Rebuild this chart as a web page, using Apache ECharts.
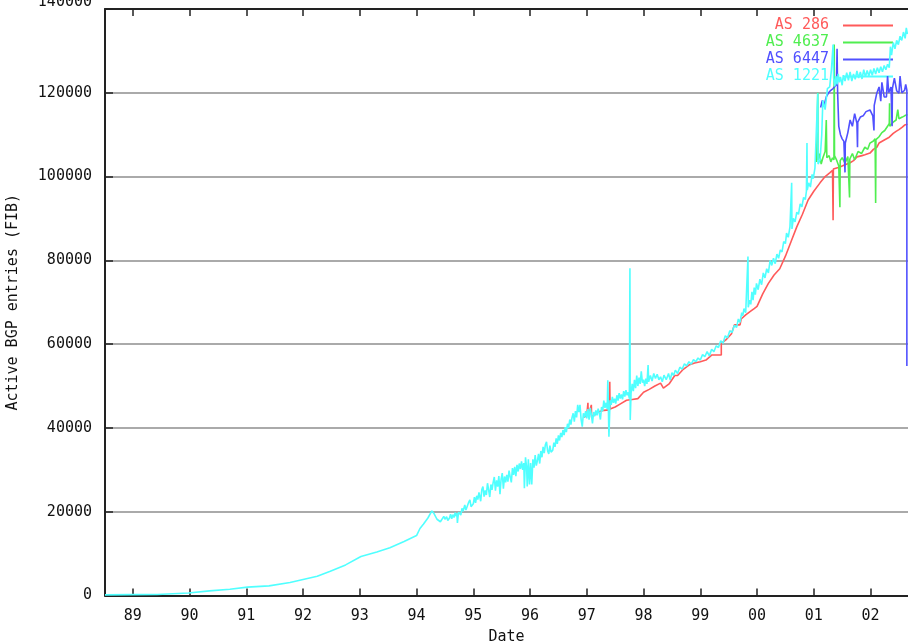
<!DOCTYPE html>
<html>
<head>
<meta charset="utf-8">
<script src="https://cdn.jsdelivr.net/npm/echarts@6/dist/echarts.min.js"></script>
<style>html,body{margin:0;padding:0;background:#fff}#c{width:908px;height:643px}</style>
</head>
<body>
<div id="c"></div>
<script>
// Tick positions / labels
const yearTicks = [1989,1990,1991,1992,1993,1994,1995,1996,1997,1998,1999,2000,2001,2002];
const yearLabels = ['89','90','91','92','93','94','95','96','97','98','99','00','01','02'];
const yTicks = [0,20000,40000,60000,80000,100000,120000,140000];

// Series data: [decimal year, active BGP entries]
const as286 = [
  [1996.95,42500],[1997.00,43000],[1997.02,46000],[1997.025,43000],[1997.04,43500],[1997.08,45500],[1997.085,42500],[1997.11,42500],
  [1997.2,43800],[1997.3,44200],[1997.40,44300],[1997.405,51000],[1997.41,44500],[1997.5,45000],[1997.6,45800],[1997.7,46600],
  [1997.8,46800],[1997.9,47000],[1998.0,48500],[1998.1,49200],[1998.2,50000],[1998.3,50700],[1998.35,49500],[1998.45,50500],
  [1998.55,52500],[1998.6,52500],[1998.7,54000],[1998.8,55000],[1998.9,55500],[1999.0,55800],[1999.1,56200],[1999.2,57400],
  [1999.37,57400],[1999.37,60200],[1999.45,61000],[1999.55,62500],[1999.6,64600],[1999.7,64600],[1999.72,66000],[1999.8,67000],
  [1999.9,68000],[1999.95,68500],[2000.0,69000],[2000.05,70500],[2000.1,72000],[2000.2,74500],[2000.3,76500],[2000.4,78000],
  [2000.5,81000],[2000.6,84500],[2000.7,88000],[2000.8,91000],[2000.9,94400],[2001.0,96500],[2001.11,98500],[2001.2,100000],
  [2001.28,100900],[2001.33,101500],[2001.34,89600],[2001.345,101800],[2001.46,102300],[2001.55,102800],[2001.64,103300],
  [2001.7,103800],[2001.76,104700],[2001.85,105000],[2001.9,105200],[2001.99,105600],[2002.05,106500],[2002.11,107000],
  [2002.15,108000],[2002.25,108800],[2002.33,109400],[2002.4,110300],[2002.45,110800],[2002.5,111200],[2002.56,111800],
  [2002.6,112300],[2002.65,112500]
];
const as4637 = [
  [2001.05,103500],[2001.07,120000],[2001.075,104000],[2001.1,105500],[2001.13,103000],[2001.16,104500],[2001.2,106000],
  [2001.22,113500],[2001.23,104500],[2001.27,105000],[2001.3,103500],[2001.33,104500],[2001.355,104000],[2001.36,131500],
  [2001.365,105000],[2001.4,104000],[2001.44,102500],[2001.46,92700],[2001.465,103800],[2001.5,104500],[2001.55,103200],
  [2001.6,104800],[2001.63,95000],[2001.635,104200],[2001.68,105500],[2001.72,104000],[2001.78,106000],[2001.84,105500],
  [2001.9,107000],[2001.95,106500],[2001.99,108000],[2002.05,108500],[2002.08,109000],[2002.09,93700],[2002.095,108800],
  [2002.15,109500],[2002.2,110500],[2002.25,111000],[2002.3,112000],[2002.33,112700],[2002.335,117500],[2002.34,112000],
  [2002.4,113000],[2002.45,113500],[2002.48,116000],[2002.5,113800],[2002.56,114200],[2002.6,114500],[2002.65,114800]
];
const as6447 = [
  [2001.12,116500],[2001.15,118200],[2001.18,117000],[2001.22,119000],[2001.26,120000],[2001.3,120600],[2001.34,121000],
  [2001.4,122000],[2001.41,130500],[2001.42,120000],[2001.44,112000],[2001.47,110000],[2001.5,109000],[2001.53,108400],
  [2001.55,101000],[2001.555,108000],[2001.6,110500],[2001.64,113500],[2001.68,112000],[2001.72,115000],[2001.76,112700],
  [2001.77,107000],[2001.775,113000],[2001.82,114200],[2001.87,114500],[2001.92,115500],[2001.99,115900],[2002.04,114500],
  [2002.06,111000],[2002.065,117000],[2002.11,119900],[2002.15,121400],[2002.18,118000],[2002.2,122500],[2002.24,119000],
  [2002.28,119000],[2002.3,124000],[2002.32,120000],[2002.36,121400],[2002.38,112000],[2002.385,121000],[2002.42,123500],
  [2002.46,120500],[2002.5,119900],[2002.52,124000],[2002.55,120000],[2002.6,120600],[2002.62,122000],[2002.64,120600],
  [2002.64,54800]
];
const as1221 = [
  [1988.51,150],[1988.95,200],[1989.43,250],[1989.43,450],[1989.98,600],[1990.0,900],[1990.35,1100],[1990.36,1300],
  [1990.71,1500],[1990.72,1800],[1991.02,2000],[1991.4,2300],[1991.41,2700],[1991.77,3100],[1991.78,3500],[1992.02,3900],
  [1992.25,4600],[1992.48,5800],[1992.75,7300],[1993.02,9300],[1993.3,10400],[1993.53,11400],[1993.78,12900],[1994.0,14300],
  [1994.03,14500],[1994.06,16000],[1994.12,17000],[1994.2,18500],[1994.27,20200],[1994.31,19500],[1994.36,18200],
  [1994.42,17600],[1994.45,18000],[1994.48,18900],[1994.5,18200],[1994.53,18800],[1994.55,17900],[1994.58,18500],
  [1994.6,19400],[1994.62,18300],[1994.64,19300],[1994.66,18600],[1994.68,19800],[1994.7,18900],[1994.71,19700],
  [1994.72,17300],[1994.74,19900],[1994.76,20000],[1994.78,19200],[1994.8,20800],[1994.82,20100],[1994.85,21600],
  [1994.87,20400],[1994.9,20500],[1994.92,22300],[1994.94,22800],[1994.96,21200],[1995.0,21900],[1995.02,23500],
  [1995.04,22100],[1995.06,23800],[1995.08,22900],[1995.1,24600],[1995.12,24400],[1995.13,22500],[1995.15,25300],
  [1995.17,26000],[1995.19,23600],[1995.21,25100],[1995.23,24000],[1995.25,26800],[1995.27,25200],[1995.29,23500],
  [1995.31,26500],[1995.33,25200],[1995.35,27000],[1995.37,28300],[1995.39,25000],[1995.41,27500],[1995.43,26000],
  [1995.45,28500],[1995.47,24200],[1995.49,27800],[1995.51,29200],[1995.53,25500],[1995.55,28400],[1995.57,27000],
  [1995.59,28800],[1995.61,27200],[1995.63,29800],[1995.65,28300],[1995.67,27000],[1995.69,30400],[1995.71,28800],
  [1995.73,30700],[1995.75,28500],[1995.77,31200],[1995.79,29600],[1995.81,31500],[1995.83,30200],[1995.85,32000],
  [1995.87,30000],[1995.89,31600],[1995.9,25600],[1995.92,33000],[1995.94,30500],[1995.95,26000],[1995.97,32500],
  [1995.99,26500],[1996.01,31600],[1996.03,26500],[1996.05,32500],[1996.07,30500],[1996.09,33500],[1996.11,31000],
  [1996.13,32200],[1996.15,33800],[1996.17,31500],[1996.19,34500],[1996.21,33000],[1996.23,35500],[1996.25,34000],
  [1996.27,36000],[1996.29,36700],[1996.31,34500],[1996.33,33800],[1996.35,35800],[1996.37,34200],[1996.4,34700],
  [1996.42,36500],[1996.44,35500],[1996.46,37500],[1996.48,36200],[1996.5,38200],[1996.52,37000],[1996.54,38800],
  [1996.56,37800],[1996.58,39500],[1996.6,38300],[1996.62,40200],[1996.64,39000],[1996.66,41000],[1996.68,40000],
  [1996.7,42000],[1996.72,40800],[1996.74,42500],[1996.76,43500],[1996.78,41500],[1996.8,44000],[1996.82,42500],
  [1996.84,45500],[1996.86,43800],[1996.88,45500],[1996.9,42000],[1996.92,40300],[1996.94,43500],[1996.96,42500],
  [1996.98,44000],[1997.0,42300],[1997.02,44500],[1997.04,42000],[1997.06,44800],[1997.08,43200],[1997.1,41100],
  [1997.12,43800],[1997.14,42800],[1997.16,44200],[1997.18,43000],[1997.2,44600],[1997.22,43500],[1997.24,42000],
  [1997.26,45000],[1997.28,44000],[1997.3,46500],[1997.32,44800],[1997.34,46000],[1997.36,44500],[1997.37,51400],
  [1997.38,45000],[1997.39,37900],[1997.41,46600],[1997.43,45500],[1997.45,47400],[1997.47,46000],[1997.49,47000],
  [1997.51,45800],[1997.53,47800],[1997.55,46500],[1997.57,48300],[1997.59,47000],[1997.61,48000],[1997.63,46800],
  [1997.65,48800],[1997.67,47500],[1997.69,49000],[1997.71,47800],[1997.73,48500],[1997.75,47000],[1997.76,78100],
  [1997.765,41900],[1997.78,48300],[1997.8,50500],[1997.82,48800],[1997.84,51500],[1997.86,49500],[1997.88,52500],
  [1997.9,50000],[1997.92,52000],[1997.94,50500],[1997.96,53500],[1997.98,50800],[1998.0,51500],[1998.02,50000],
  [1998.04,51800],[1998.06,50500],[1998.08,55000],[1998.09,51000],[1998.12,52500],[1998.15,51200],[1998.18,53000],
  [1998.21,51800],[1998.24,52800],[1998.27,51500],[1998.3,52200],[1998.33,51000],[1998.36,52600],[1998.4,51500],
  [1998.44,53000],[1998.47,51400],[1998.5,53200],[1998.53,52500],[1998.56,53800],[1998.6,53000],[1998.64,54500],
  [1998.68,54000],[1998.72,55300],[1998.76,54800],[1998.8,55800],[1998.84,55200],[1998.88,56300],[1998.92,55800],
  [1998.96,56700],[1999.0,56200],[1999.04,57500],[1999.08,57000],[1999.12,58200],[1999.16,57200],[1999.2,58800],
  [1999.24,58200],[1999.28,59600],[1999.32,59200],[1999.36,60800],[1999.4,60200],[1999.44,62000],[1999.48,61500],
  [1999.52,63200],[1999.56,62800],[1999.6,64500],[1999.64,64000],[1999.67,66000],[1999.7,65200],[1999.73,67500],
  [1999.75,66800],[1999.77,68500],[1999.8,67500],[1999.84,80900],[1999.845,68800],[1999.87,70500],[1999.89,69500],
  [1999.91,72500],[1999.93,70500],[1999.95,73500],[1999.97,71800],[1999.99,74500],[2000.02,73000],[2000.05,75500],
  [2000.08,74200],[2000.11,77000],[2000.14,75800],[2000.17,78000],[2000.2,77000],[2000.23,80000],[2000.26,78800],
  [2000.29,80500],[2000.32,79200],[2000.35,81500],[2000.38,80500],[2000.41,82500],[2000.44,82000],[2000.47,84500],
  [2000.5,84000],[2000.52,86500],[2000.55,85500],[2000.58,88000],[2000.61,98500],[2000.615,87500],[2000.64,90000],
  [2000.67,89200],[2000.7,91500],[2000.73,91000],[2000.76,93500],[2000.79,92800],[2000.82,95000],[2000.85,94500],
  [2000.87,96500],[2000.88,108000],[2000.885,96800],[2000.91,98500],[2000.94,97500],[2000.97,100500],[2000.99,99500],
  [2001.02,102000],[2001.07,119900],[2001.075,103000],[2001.11,103900],[2001.14,110000],[2001.16,118200],[2001.2,116000],
  [2001.24,121000],[2001.28,121400],[2001.31,125400],[2001.34,131500],[2001.35,123500],[2001.37,121500],[2001.39,124000],
  [2001.41,122000],[2001.43,124500],[2001.45,122500],[2001.47,123800],[2001.5,121800],[2001.52,124200],[2001.55,122800],
  [2001.58,124800],[2001.61,123000],[2001.64,125000],[2001.67,122800],[2001.7,124500],[2001.73,123200],[2001.76,125200],
  [2001.79,123500],[2001.82,125000],[2001.85,123300],[2001.88,125500],[2001.91,123800],[2001.94,125300],[2001.97,124000],
  [2002.0,125500],[2002.03,124200],[2002.06,125800],[2002.09,124500],[2002.12,126000],[2002.15,124800],[2002.18,126200],
  [2002.21,125000],[2002.24,126500],[2002.27,125500],[2002.3,126800],[2002.33,126000],[2002.35,131000],[2002.37,129000],
  [2002.4,132000],[2002.43,130500],[2002.46,132500],[2002.49,131500],[2002.52,133500],[2002.55,132500],[2002.58,134500],
  [2002.61,133000],[2002.63,135500],[2002.65,134000]
];

const seriesNames = ['AS 286','AS 4637','AS 6447','AS 1221'];
const seriesColors = ['#ff5a5a','#50ee50','#5050ff','#50ffff'];
const seriesData = [as286, as4637, as6447, as1221];

const FONT = 'DejaVu Sans Mono';
const FS = 15;
const X_MIN = 1988.51, X_MAX = 2002.66;

const chart = echarts.init(document.getElementById('c'), null, {renderer:'canvas'});
const axisCommonX = {
  type:'value', min:X_MIN, max:X_MAX,
  axisLine:{show:true, lineStyle:{color:'#222', width:2}},
  splitLine:{show:false}
};
chart.setOption({
  animation:false,
  backgroundColor:'#fff',
  grid:{left:105, right:0, top:9, bottom:47.5, containLabel:false, outerBoundsMode:'none'},
  legend:{
    orient:'vertical', right:10, top:13, align:'right',
    itemWidth:50, itemHeight:2, itemGap:2, icon:'rect',
    formatter: n => n.padStart(7) + ' ',
    textStyle:{fontFamily:FONT, fontSize:FS, lineHeight:15},
    data: seriesNames.map((n,i)=>({name:n, textStyle:{color:seriesColors[i]}}))
  },
  xAxis:[
    Object.assign({}, axisCommonX, {
      position:'bottom',
      name:'Date', nameLocation:'middle', nameGap:34,
      nameTextStyle:{fontFamily:FONT, fontSize:FS, color:'#111'},
      axisTick:{show:true, inside:true, length:7, customValues:yearTicks, lineStyle:{color:'#222', width:1.5}},
      axisLabel:{show:true, customValues:yearTicks, margin:13, fontFamily:FONT, fontSize:FS, color:'#111',
        formatter: v => yearLabels[yearTicks.indexOf(Math.round(v))]}
    }),
    Object.assign({}, axisCommonX, {
      position:'top',
      axisTick:{show:true, inside:true, length:7, customValues:yearTicks, lineStyle:{color:'#222', width:1.5}},
      axisLabel:{show:false}
    })
  ],
  yAxis:{
    type:'value', min:0, max:140000, interval:20000,
    name:'Active BGP entries (FIB)', nameLocation:'middle', nameGap:84, nameRotate:90,
    nameTextStyle:{fontFamily:FONT, fontSize:FS, color:'#111'},
    axisLine:{show:true, lineStyle:{color:'#222', width:2}},
    axisTick:{show:true, inside:true, length:8, customValues:yTicks, lineStyle:{color:'#222', width:1.5}},
    axisLabel:{margin:13, fontFamily:FONT, fontSize:FS, color:'#111',
      formatter: v => v === 140000 ? '{top|' + v + '}' : String(v),
      rich:{top:{fontFamily:FONT, fontSize:FS, color:'#111', padding:[0,0,14,0]}}},
    splitLine:{show:true, lineStyle:{color:'#aaaaaa', width:2}}
  },
  series: seriesNames.map((n,i)=>({
    name:n, type:'line', data:seriesData[i], symbol:'none', showSymbol:false,
    lineStyle:{color:seriesColors[i], width:1.6}, itemStyle:{color:seriesColors[i]},
    xAxisIndex:0, yAxisIndex:0, z:2+i
  }))
});
</script>
</body>
</html>
